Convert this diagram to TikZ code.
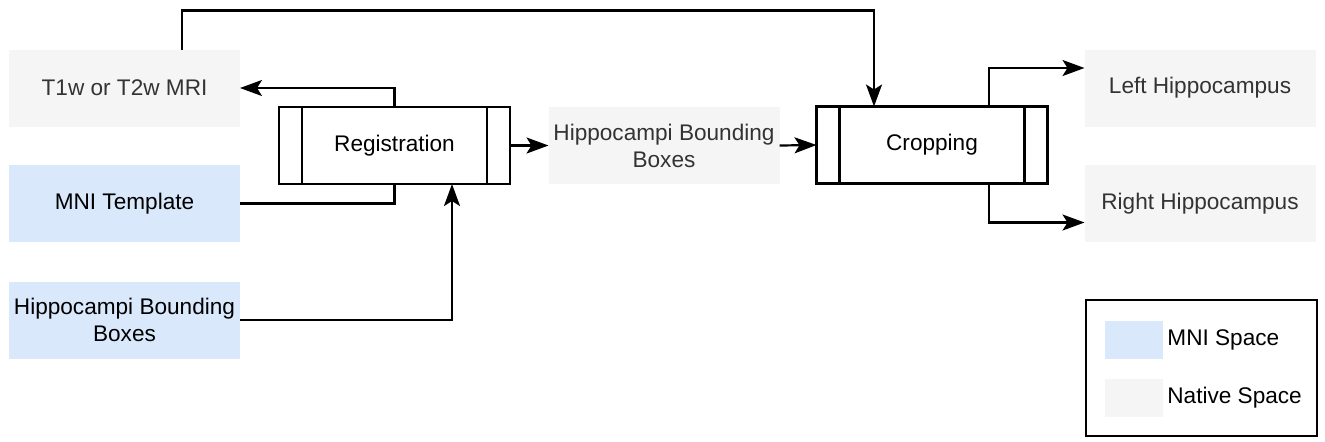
\documentclass[tikz,border=0pt]{standalone}
\usepackage{fontspec}
\setmainfont{Liberation Sans}
\usetikzlibrary{arrows.meta,calc,positioning}
\definecolor{mniblue}{HTML}{DAE8FC}
\definecolor{nativegray}{HTML}{F5F5F5}
\definecolor{nativetext}{HTML}{333333}

\begin{document}
\begin{tikzpicture}[x=0.5pt,y=-0.5pt,
  font=\fontsize{11.3}{13.5}\selectfont,
  flow/.style={line width=1.1pt,-{Stealth[length=11pt,width=8pt,inset=2.5pt]}},
  link/.style={line width=1.1pt},
  nativebox/.style={fill=nativegray,text=nativetext,minimum width=115.5pt,minimum height=38.5pt,inner sep=0pt,outer sep=0pt,align=center},
  mnibox/.style={nativebox,fill=mniblue,text=black},
  procbox/.style={draw,line width=1.1pt,minimum width=115.5pt,minimum height=38.5pt,inner sep=0pt,outer sep=0pt,
    path picture={\draw[line width=1.1pt] ([xshift=11.5pt]path picture bounding box.north west) -- ([xshift=11.5pt]path picture bounding box.south west)
      ([xshift=-11.5pt]path picture bounding box.north east) -- ([xshift=-11.5pt]path picture bounding box.south east);}},
  swatch/.style={minimum width=29pt,minimum height=19pt,inner sep=0pt,outer sep=0pt}]
\useasboundingbox (0,0) rectangle (1325,441);

% inputs
\node[nativebox] (t1w) at (124.5,88) {T1w or T2w MRI};
\node[mnibox] (mni) at (124.5,203.5) {MNI Template};
\node[mnibox] (bboxmni) at (124.5,320) {Hippocampi Bounding\\Boxes};

% processing
\node[procbox] (reg) at (394.5,145.5) {Registration};
\node[nativebox] (bboxnat) at (664,145.5) {Hippocampi Bounding\\Boxes};
\node[procbox] (crop) at (932,145) {Cropping};

% outputs
\node[nativebox] (lefthc) at (1200,88) {Left Hippocampus};
\node[nativebox] (righthc) at (1200,203.5) {Right Hippocampus};

% connectors
\draw[flow] (reg.north) |- (t1w.east);
\draw[link] (mni.east) -| (reg.south);
\draw[flow] (bboxmni.east) -| ($(reg.south)+(57.5,0)$);
\draw[flow] ($(t1w.north)+(57.5,0)$) -- ++(0,-39) -| ($(crop.north)+(-58,0)$);
\draw[flow] (reg.east) -- (bboxnat.west);
\draw[flow] (bboxnat.east) -- (crop.west);
\draw[flow] ($(crop.north)+(57,0)$) |- ($(lefthc.west)+(0,-20)$);
\draw[flow] ($(crop.south)+(57,0)$) |- ($(righthc.west)+(0,19)$);

% legend
\node[draw,line width=1.1pt,minimum width=115.5pt,minimum height=68pt,inner sep=0pt] (legend) at (1201.5,368) {};
\node[swatch,fill=mniblue] (mnikey) at (1134,340) {};
\node[swatch,fill=nativegray] (nativekey) at (1134,398) {};
\node[right=2pt of mnikey,inner sep=0pt] (mnilabel) {MNI Space};
\node[right=2pt of nativekey,inner sep=0pt] (nativelabel) {Native Space};
\end{tikzpicture}
\end{document}
